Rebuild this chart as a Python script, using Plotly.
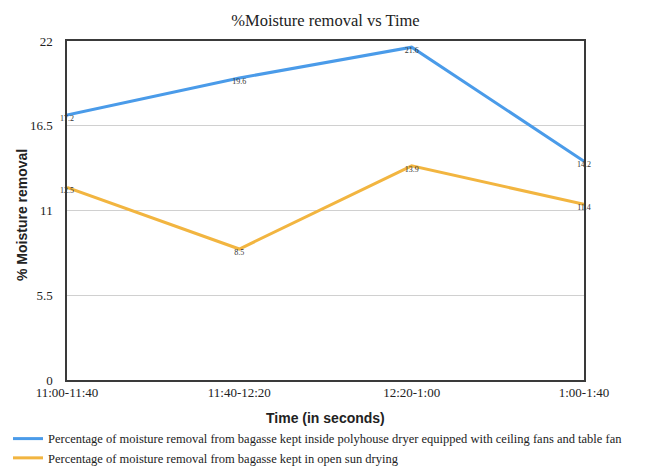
import plotly.graph_objects as go

categories = ["11:00-11:40", "11:40-12:20", "12:20-1:00", "1:00-1:40"]
polyhouse = [17.2, 19.6, 21.6, 14.2]
open_sun = [12.5, 8.5, 13.9, 11.4]
y_ticks = [0, 5.5, 11, 16.5, 22]
y_tick_labels = ["0", "5.5", "11", "16.5", "22"]

serif = "Liberation Serif, Times New Roman, serif"
sans = "Liberation Sans, Arial, sans-serif"

fig = go.Figure()
fig.add_trace(go.Scatter(
    x=categories, y=polyhouse, mode="lines+text",
    name="Percentage of moisture removal from bagasse kept inside polyhouse dryer equipped with ceiling fans and table fan",
    line=dict(color="#4a9be9", width=3),
    text=[str(v) for v in polyhouse], textposition="bottom center",
    textfont=dict(family=serif, size=8, color="#333333"),
    cliponaxis=False,
))
fig.add_trace(go.Scatter(
    x=categories, y=open_sun, mode="lines+text",
    name="Percentage of moisture removal from bagasse kept in open sun drying",
    line=dict(color="#f2b540", width=3),
    text=[str(v) for v in open_sun], textposition="bottom center",
    textfont=dict(family=serif, size=8, color="#333333"),
    cliponaxis=False,
))

fig.update_layout(
    width=655, height=460,
    margin=dict(l=59, r=79, t=33, b=88, autoexpand=False),
    paper_bgcolor="white", plot_bgcolor="white",
    title=dict(text="%Moisture removal vs Time", x=0.5, xref="paper", y=0.974, yref="container",
               xanchor="center", yanchor="middle",
               font=dict(family=serif, size=16.5, color="#222222")),
    font=dict(family=serif, color="#222222"),
    xaxis=dict(
        type="category", range=[0, 3], showgrid=False,
        showline=True, mirror=True, linecolor="#3a3a3a", linewidth=1.5,
        ticks="", tickfont=dict(family=serif, size=13, color="#222222"),
        tickangle=0, automargin=False,
    ),
    yaxis=dict(
        range=[0, 22], tickvals=y_ticks, ticktext=y_tick_labels,
        showgrid=True, gridcolor="#d0d0d0", gridwidth=1, zeroline=False,
        showline=True, mirror=True, linecolor="#3a3a3a", linewidth=1.5,
        ticks="", ticklen=0, tickfont=dict(family=serif, size=13, color="#222222"),
        ticklabelstandoff=10, automargin=False,
    ),
    annotations=[
        dict(text="<b>% Moisture removal</b>", xref="paper", yref="paper",
             x=(22 - 67) / 517, y=(380 - 215) / 339, xanchor="center", yanchor="middle", textangle=-90,
             showarrow=False, font=dict(family=sans, size=14, color="#222222")),
        dict(text="<b>Time (in seconds)</b>", xref="paper", yref="paper",
             x=(325 - 67) / 517, y=(380 - 418) / 339, xanchor="center", yanchor="middle",
             showarrow=False, font=dict(family=sans, size=14, color="#222222")),
    ],
    legend=dict(
        xref="container", yref="container", x=0, y=0.0957, xanchor="left", yanchor="top",
        font=dict(family=serif, size=12.5, color="#222222"),
        itemwidth=30, tracegroupgap=0, bgcolor="rgba(0,0,0,0)",
    ),
    showlegend=True,
)

fig.write_html("out.html")
